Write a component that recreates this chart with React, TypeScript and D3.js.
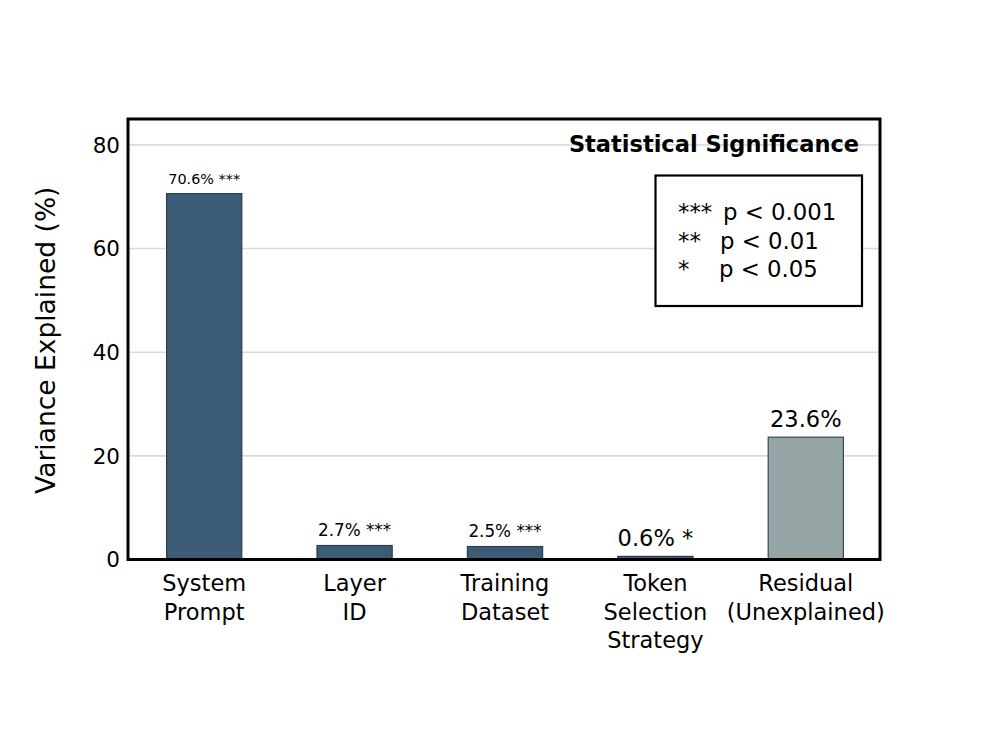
import { useEffect, useRef } from "react";
import * as d3 from "d3";

// data
const categories = [
  ["System", "Prompt"],
  ["Layer", "ID"],
  ["Training", "Dataset"],
  ["Token", "Selection", "Strategy"],
  ["Residual", "(Unexplained)"],
];
const variance = [70.6, 2.7, 2.5, 0.6, 23.6];
const stars = ["***", "***", "***", "*", ""];
const yTicks = [0, 20, 40, 60, 80];
const legendStars = ["***", "**", "*"];
const legendP = ["p < 0.001", "p < 0.01", "p < 0.05"];

const W = 986,
  H = 742;

const App = () => {
  const ref = useRef<SVGSVGElement>(null);

  useEffect(() => {
    const svg = d3.select(ref.current);
    svg.selectAll("*").remove();

    const left = 128,
      right = 880,
      top = 119,
      bottom = 559.5;
    const font = "DejaVu Sans, sans-serif";

    const x = d3
      .scaleBand<number>()
      .domain(d3.range(variance.length))
      .range([left, right])
      .padding(0);
    const barW = x.bandwidth() * 0.5;
    const cx = (i: number) => x(i)! + x.bandwidth() / 2 + 1;
    const y = d3.scaleLinear().domain([0, 85]).range([bottom, top]);

    const g = svg.append("g");

    // grid
    g.append("g")
      .selectAll("line")
      .data(yTicks.filter((t) => t > 0))
      .enter()
      .append("line")
      .attr("x1", left)
      .attr("x2", right)
      .attr("y1", (d) => y(d))
      .attr("y2", (d) => y(d))
      .attr("stroke", "#dadada")
      .attr("stroke-width", 1.6);

    // bars
    const isResidual = (i: number) => i === variance.length - 1;
    g.append("g")
      .selectAll("rect")
      .data(variance)
      .enter()
      .append("rect")
      .attr("x", (_, i) => cx(i) - barW / 2)
      .attr("width", barW)
      .attr("y", (d) => y(d))
      .attr("height", (d) => bottom - y(d))
      .attr("fill", (_, i) => (isResidual(i) ? "#95a5a6" : "#3c5b74"))
      .attr("stroke", (_, i) => (isResidual(i) ? "#34495e" : "#2c3e50"))
      .attr("stroke-width", 1.2);

    // bar value labels (longer labels drawn smaller)
    const labelSize = (i: number) =>
      i === 0 ? 14.4 : stars[i].length === 3 ? 16.8 : 22.5;
    g.append("g")
      .selectAll("text")
      .data(variance)
      .enter()
      .append("text")
      .attr("x", (_, i) => cx(i))
      .attr("y", (d) => y(d) - 10)
      .attr("text-anchor", "middle")
      .style("font-family", font)
      .style("font-size", (_, i) => `${labelSize(i)}px`)
      .attr("fill", "#000")
      .text((d, i) => `${d.toFixed(1)}%${stars[i] ? " " + stars[i] : ""}`);

    // y tick labels
    g.append("g")
      .selectAll("text")
      .data(yTicks)
      .enter()
      .append("text")
      .attr("x", left - 8)
      .attr("y", (d) => y(d))
      .attr("dy", "0.36em")
      .attr("text-anchor", "end")
      .style("font-family", font)
      .style("font-size", "21.5px")
      .text((d) => d);

    // x tick labels
    const xl = g.append("g");
    categories.forEach((lines, i) => {
      const t = xl
        .append("text")
        .attr("text-anchor", "middle")
        .style("font-family", font)
        .style("font-size", "22.5px");
      lines.forEach((ln, j) => {
        t.append("tspan")
          .attr("x", cx(i))
          .attr("y", 591 + j * 28.5)
          .text(ln);
      });
    });

    // y axis label
    g.append("text")
      .attr("transform", `translate(55, ${(top + bottom) / 2 + 1}) rotate(-90)`)
      .attr("text-anchor", "middle")
      .style("font-family", font)
      .style("font-size", "26.5px")
      .text("Variance Explained (%)");

    // frame
    g.append("rect")
      .attr("x", left)
      .attr("y", top)
      .attr("width", right - left)
      .attr("height", bottom - top)
      .attr("fill", "none")
      .attr("stroke", "#000")
      .attr("stroke-width", 3);

    // significance note
    g.append("text")
      .attr("x", 859)
      .attr("y", 152)
      .attr("text-anchor", "end")
      .style("font-family", font)
      .style("font-size", "22.5px")
      .style("font-weight", "bold")
      .text("Statistical Significance");

    g.append("rect")
      .attr("x", 655.5)
      .attr("y", 175.5)
      .attr("width", 206.5)
      .attr("height", 130.5)
      .attr("fill", "#fff")
      .attr("stroke", "#000")
      .attr("stroke-width", 2.2);

    const leg = g.append("g").style("font-family", font).style("font-size", "22.8px");
    const pX = [723, 720, 719];
    legendStars.forEach((s, i) => {
      leg
        .append("text")
        .attr("x", 678)
        .attr("y", 220 + i * 28.7)
        .text(s);
      leg
        .append("text")
        .attr("x", pX[i])
        .attr("y", 220 + i * 28.7)
        .text(legendP[i]);
    });
  }, []);

  return (
    <svg
      ref={ref}
      width={W}
      height={H}
      style={{ position: "absolute", left: 0, top: 0, background: "#fff" }}
    />
  );
};

export default App;
